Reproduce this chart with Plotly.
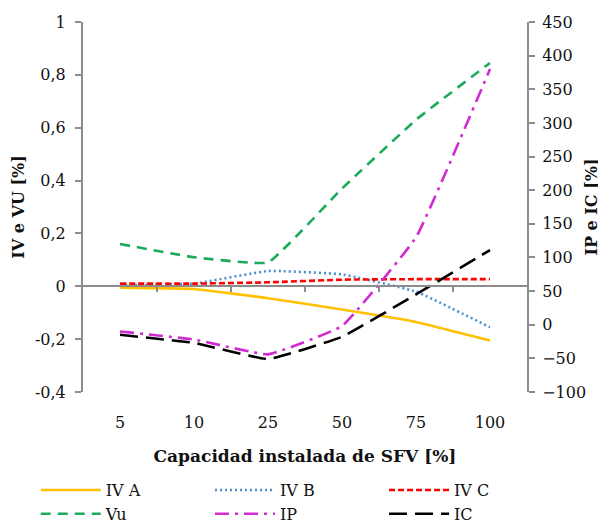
import plotly.graph_objects as go

categories = ["5", "10", "25", "50", "75", "100"]
iv_a = [-0.005, -0.01, -0.045, -0.088, -0.135, -0.205]
iv_b = [0.005, 0.01, 0.058, 0.045, -0.02, -0.155]
iv_c = [0.01, 0.01, 0.015, 0.025, 0.027, 0.027]
vu = [0.16, 0.11, 0.09, 0.37, 0.63, 0.845]
ip = [-10, -22, -44, -2, 130, 380]
ic = [-15, -27, -51, -18, 45, 111]

left_ticks = [1, 0.8, 0.6, 0.4, 0.2, 0, -0.2, -0.4]
left_ticktext = ["1", "0,8", "0,6", "0,4", "0,2", "0", "-0,2", "-0,4"]
right_ticks = [450, 400, 350, 300, 250, 200, 150, 100, 50, 0, -50, -100]

FONT = "DejaVu Serif"
AXC = "#8c8c8c"

fig = go.Figure()

def add(y, name, color, dash, legend, yaxis="y", width=2.6):
    fig.add_trace(go.Scatter(
        x=categories, y=y, name=name, yaxis=yaxis, mode="lines", legend=legend,
        line=dict(color=color, dash=dash, width=width, shape="spline", smoothing=0.3),
    ))

add(iv_a, "IV A", "#FFC000", "solid", "legend")
add(vu, "Vu", "#1DAA5A", "10px,7px", "legend")
add(iv_b, "IV B", "#4A8FD0", "2px,3px", "legend2")
add(ip, "IP", "#D22AD2", "14px,6px,3px,6px", "legend2", yaxis="y2")
add(iv_c, "IV C", "#FF0000", "6px,3px", "legend3")
add(ic, "IC", "#000000", "18px,8px", "legend3", yaxis="y2")

zero_pos = 0.4 / 1.4
leg_common = dict(orientation="v", y=-0.219, yanchor="top", xanchor="left",
                  itemwidth=60, font=dict(size=16), tracegroupgap=0,
                  bgcolor="rgba(0,0,0,0)")

fig.update_layout(
    width=598, height=521,
    margin=dict(l=75, r=79, t=14, b=137, autoexpand=False),
    paper_bgcolor="white", plot_bgcolor="white",
    font=dict(family=FONT, size=16, color="#111111"),
    showlegend=True,
    xaxis=dict(
        type="category", range=[-0.5, 5.5], showline=False, showgrid=False,
        ticks="", zeroline=False, tickfont=dict(size=16), ticklabelstandoff=19,
        title=dict(text="<b>Capacidad instalada de SFV [%]</b>", font=dict(size=17), standoff=19),
    ),
    xaxis2=dict(
        overlaying="x", anchor="free", position=zero_pos, range=[-0.5, 5.5],
        showline=True, linecolor=AXC, linewidth=2, ticks="outside", ticklen=5,
        tickcolor=AXC, tickwidth=1.5, tickvals=[0.5, 1.5, 2.5, 3.5, 4.5],
        showticklabels=False, showgrid=False, zeroline=False,
    ),
    yaxis=dict(
        range=[-0.4, 1.0], tickvals=left_ticks, ticktext=left_ticktext,
        showline=True, linecolor=AXC, linewidth=2, ticks="outside", ticklen=6,
        tickcolor=AXC, tickwidth=1.5, showgrid=False, zeroline=False,
        ticklabelstandoff=6,
        title=dict(text="<b>IV e VU [%]</b>", font=dict(size=16), standoff=6),
    ),
    yaxis2=dict(
        overlaying="y", side="right", range=[-100, 450], tickvals=right_ticks,
        showline=True, linecolor=AXC, linewidth=2, ticks="outside", ticklen=6,
        tickcolor=AXC, tickwidth=1.5, showgrid=False, zeroline=False,
        ticklabelstandoff=4,
        title=dict(text="<b>IP e IC [%]</b>", font=dict(size=16), standoff=1),
    ),
    legend=dict(x=-0.1065, **leg_common),
    legend2=dict(x=0.286, **leg_common),
    legend3=dict(x=0.678, **leg_common),
)

fig.add_trace(go.Scatter(x=[0], y=[None], xaxis="x2", showlegend=False, hoverinfo="skip"))

fig.write_html("out.html")
